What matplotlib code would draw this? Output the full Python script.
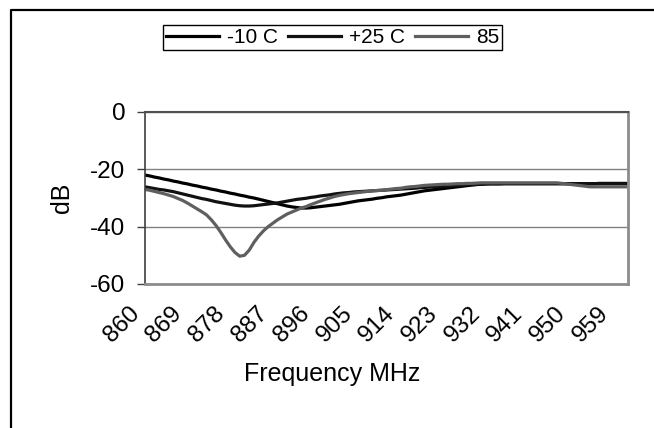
import matplotlib
matplotlib.use('Agg')
import matplotlib.pyplot as plt
from matplotlib.lines import Line2D
import matplotlib.transforms as mtransforms

plt.rcParams['font.family'] = ['Liberation Sans', 'DejaVu Sans']

# ---- data -----------------------------------------------------------
freq = list(range(860, 963))  # MHz categories

minus10 = [
    -22.0, -22.3, -22.7, -23.0, -23.4, -23.7, -24.1, -24.4, -24.8, -25.1,   # 860-869
    -25.5, -25.8, -26.2, -26.5, -26.9, -27.2, -27.6, -27.9, -28.3, -28.6,   # 870-879
    -29.0, -29.3, -29.7, -30.0, -30.4, -30.8, -31.2, -31.6, -32.0, -32.4,   # 880-889
    -32.8, -33.1, -33.3, -33.5, -33.5, -33.4, -33.2, -33.0, -32.8, -32.6,   # 890-899
    -32.4, -32.2, -31.9, -31.6, -31.3, -31.0, -30.8, -30.6, -30.4, -30.1,   # 900-909
    -29.9, -29.6, -29.4, -29.2, -29.0, -28.7, -28.4, -28.1, -27.8, -27.5,   # 910-919
    -27.3, -27.1, -26.9, -26.7, -26.5, -26.3, -26.1, -25.9, -25.7, -25.5,   # 920-929
    -25.3, -25.2, -25.1, -25.0, -25.0, -25.0, -25.0, -25.0, -25.0, -25.0,   # 930-939
    -25.0, -25.0, -25.0, -25.0, -25.0, -25.0, -25.0, -25.0, -25.0, -25.0,   # 940-949
    -25.0, -25.0, -25.0, -25.0, -25.0, -25.0, -24.9, -24.9, -24.9, -24.9,   # 950-959
    -24.9, -24.9, -24.9,                                                    # 960-962
]

plus25 = [
    -26.1, -26.4, -26.7, -27.0, -27.2, -27.5, -27.8, -28.2, -28.6, -29.0,   # 860-869
    -29.4, -29.8, -30.2, -30.5, -30.9, -31.3, -31.6, -31.9, -32.2, -32.5,   # 870-879
    -32.7, -32.8, -32.8, -32.7, -32.5, -32.3, -32.1, -31.9, -31.7, -31.4,   # 880-889
    -31.1, -30.8, -30.5, -30.3, -30.1, -29.8, -29.6, -29.3, -29.1, -28.9,   # 890-899
    -28.6, -28.4, -28.2, -28.1, -27.9, -27.8, -27.7, -27.6, -27.5, -27.4,   # 900-909
    -27.3, -27.2, -27.1, -27.0, -26.9, -26.8, -26.7, -26.6, -26.4, -26.3,   # 910-919
    -26.2, -26.1, -26.0, -25.9, -25.8, -25.7, -25.6, -25.5, -25.4, -25.3,   # 920-929
    -25.3, -25.2, -25.1, -25.1, -25.1, -25.1, -25.0, -25.0, -25.0, -25.0,   # 930-939
    -25.0, -25.0, -25.0, -25.0, -25.0, -25.0, -25.0, -25.0, -25.0, -25.0,   # 940-949
    -25.0, -25.0, -25.0, -25.0, -25.0, -25.0, -25.0, -25.0, -25.0, -25.0,   # 950-959
    -25.0, -25.0, -25.0,                                                    # 960-962
]

t85 = [
    -27.0, -27.3, -27.7, -28.1, -28.5, -29.0, -29.5, -30.2, -30.9, -31.8,   # 860-869
    -32.8, -33.8, -34.8, -35.9, -37.6, -39.6, -42.0, -44.6, -47.0, -49.0,   # 870-879
    -50.3, -50.0, -48.2, -45.5, -43.3, -41.5, -40.0, -38.8, -37.6, -36.6,   # 880-889
    -35.6, -34.9, -34.2, -33.5, -33.0, -32.3, -31.7, -31.1, -30.5, -30.0,   # 890-899
    -29.5, -29.1, -28.8, -28.5, -28.3, -28.1, -27.9, -27.7, -27.5, -27.4,   # 900-909
    -27.3, -27.1, -26.9, -26.7, -26.6, -26.3, -26.1, -26.0, -25.8, -25.6,   # 910-919
    -25.5, -25.4, -25.3, -25.2, -25.2, -25.1, -25.0, -25.0, -24.9, -24.9,   # 920-929
    -24.8, -24.7, -24.7, -24.7, -24.7, -24.7, -24.7, -24.7, -24.7, -24.7,   # 930-939
    -24.7, -24.7, -24.7, -24.7, -24.7, -24.7, -24.7, -24.7, -24.9, -25.1,   # 940-949
    -25.3, -25.5, -25.7, -25.9, -26.1, -26.1, -26.1, -26.1, -26.1, -26.1,   # 950-959
    -26.1, -26.1, -26.1,                                                    # 960-962
]

series_labels = ['-10 C', '+25 C', '85']
series_colors = ['#000000', '#111111', '#5f5f5f']
y_ticks = [0, -20, -40, -60]
x_tick_labels = ['860', '869', '878', '887', '896', '905', '914', '923',
                 '932', '941', '950', '959']

# ---- figure ---------------------------------------------------------
W, H = 654, 428
fig = plt.figure(figsize=(W / 100, H / 100), dpi=100)

# outer chart frame (clipped on right and bottom)
fig.add_artist(Line2D([11 / W, 11 / W, 1.0], [0.0, 1 - 10 / H, 1 - 10 / H],
                      transform=fig.transFigure, color='black', lw=1.6))

ax = fig.add_axes([145 / W, 1 - 284 / H, 483 / W, 172 / H])

pos = list(range(len(freq)))
handles = []
for vals, lab, col in zip([minus10, plus25, t85], series_labels, series_colors):
    h, = ax.plot(pos, vals, color=col, lw=2.3, label=lab, solid_joinstyle='round')
    handles.append(h)

ax.set_xlim(0, len(freq) - 1)
ax.set_ylim(-60, 0)
ax.set_yticks(y_ticks)
ax.set_yticklabels([str(v) for v in y_ticks])
ax.grid(axis='y', color='#808080', lw=1.0)
ax.set_axisbelow(True)

xt_pos = [freq.index(int(s)) for s in x_tick_labels]
ax.set_xticks(xt_pos)
ax.set_xticklabels(x_tick_labels, rotation=45, ha='right', va='center',
                   rotation_mode='anchor', fontsize=17.5)
ax.tick_params(axis='x', length=0, pad=19)
offset = mtransforms.ScaledTranslation(-9 / 100, 0, fig.dpi_scale_trans)
for lbl in ax.get_xticklabels():
    lbl.set_transform(lbl.get_transform() + offset)

ax.tick_params(axis='y', direction='out', length=6, width=1.0,
               color='#404040', pad=8, labelsize=17.5)

ax.spines['left'].set_color('#404040')
ax.spines['left'].set_linewidth(1.2)
ax.spines['top'].set_color('#505050')
ax.spines['top'].set_linewidth(1.5)
for s in ('right', 'bottom'):
    ax.spines[s].set_color('#8c8c8c')
    ax.spines[s].set_linewidth(2.0)

ax.set_xlabel('Frequency MHz', fontsize=18)
ax.xaxis.label.set_va('center')
ax.xaxis.set_label_coords((331.7 - 145) / 483, (284 - 374) / 172)
ax.set_ylabel('dB', fontsize=18)
ax.yaxis.label.set_va('center')
ax.yaxis.set_label_coords((62 - 145) / 483, 0.5)

leg = fig.legend(handles=handles, labels=series_labels, loc='center',
                 bbox_to_anchor=(332.7 / W, 1 - 37.3 / H), ncol=3, fontsize=15,
                 frameon=True, fancybox=False, edgecolor='black', framealpha=1,
                 handlelength=2.55, handletextpad=0.37, columnspacing=0.48,
                 borderpad=0.15, borderaxespad=0)
leg.get_frame().set_linewidth(1.0)

fig.savefig('out.png', dpi=100)
